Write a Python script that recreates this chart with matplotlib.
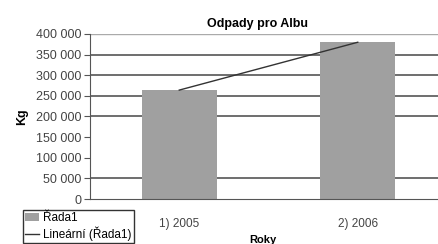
import numpy as np
import matplotlib.pyplot as plt
from matplotlib.ticker import FuncFormatter

plt.rcParams['font.family'] = ['Liberation Sans', 'DejaVu Sans']

categories = ["1) 2005", "2) 2006"]
values = [264000, 380000]
yticks = [0, 50000, 100000, 150000, 200000, 250000, 300000, 350000, 400000]
gridlines = [50000, 200000, 250000, 300000, 350000]

fig = plt.figure(figsize=(4.38, 2.44), dpi=100)
ax = fig.add_axes([90 / 438, 45 / 244, 357 / 438, 165 / 244])

x = np.arange(len(categories))
for g in gridlines:
    ax.axhline(g, color="#555555", lw=1.2, zorder=0)
ax.axhline(400000, color="#aaaaaa", lw=1.0, zorder=0)

bars = ax.bar(x, values, width=0.42, color="#a0a0a0", label="Řada1", zorder=2)

# lineární trend
k, q = np.polyfit(x, values, 1)
trend, = ax.plot(x, k * x + q, color="#333333", lw=1.0, label="Lineární (Řada1)", zorder=3)

ax.set_xlim(-0.5, 1.5)
ax.set_ylim(0, 400000)
ax.set_yticks(yticks)
ax.yaxis.set_major_formatter(FuncFormatter(lambda v, p: f"{int(v):,}".replace(",", " ")))
ax.set_xticks(x)
ax.set_xticklabels(categories)
ax.tick_params(axis="y", labelsize=9, length=4, width=0.8, color="#555555", labelcolor="#444444", pad=2)
ax.tick_params(axis="x", labelsize=8.5, length=0, labelcolor="#444444", pad=14)

for s in ["top", "right"]:
    ax.spines[s].set_visible(False)
ax.spines["left"].set_color("#555555")
ax.spines["bottom"].set_color("#555555")

ax.set_title("Odpady pro Albu", fontsize=9, fontweight="bold", pad=5, x=0.47)
ax.set_ylabel("Kg", fontsize=9, fontweight="bold", labelpad=6)
ax.set_xlabel("Roky", fontsize=8, fontweight="bold", labelpad=3, x=0.485)

fig.legend(handles=[bars, trend], loc="upper left", bbox_to_anchor=(17 / 438, 1 - 204 / 244),
           fontsize=8.5, frameon=True, fancybox=False, edgecolor="#333333", handlelength=1.2,
           handletextpad=0.3, borderpad=0.2, labelspacing=0.2, framealpha=1)

plt.savefig("out.png", dpi=100)
